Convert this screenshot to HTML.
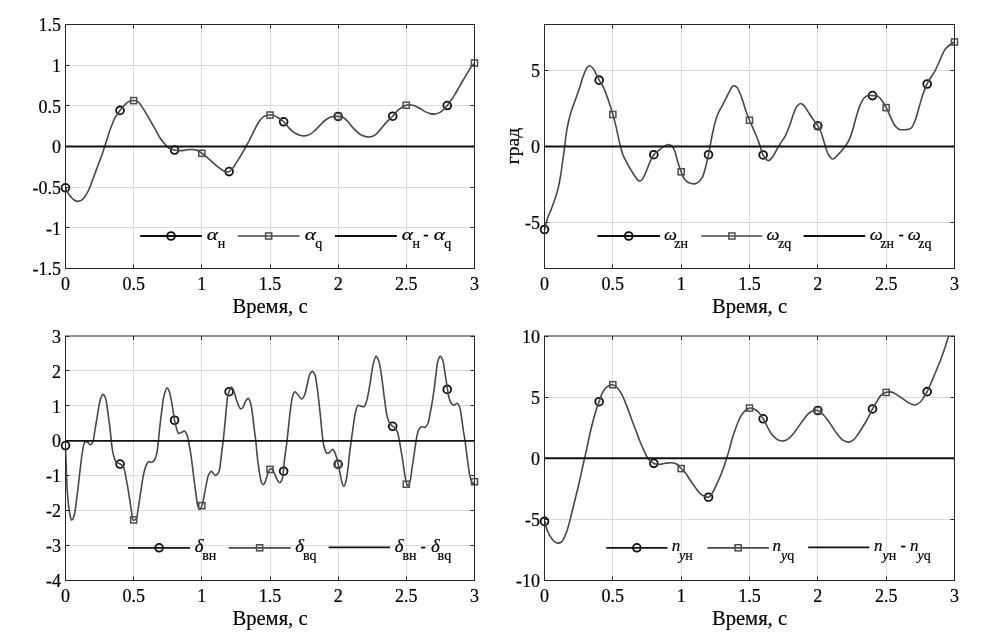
<!DOCTYPE html>
<html><head><meta charset="utf-8"><style>
html,body{margin:0;padding:0;background:#fff;}
body{width:1002px;height:637px;overflow:hidden;font-family:"Liberation Serif", serif;}
svg{display:block;will-change:transform;}
text{stroke:#000;stroke-width:0.2px;fill:#000;}
</style></head><body>
<svg width="1002" height="637" viewBox="0 0 1002 637" font-family='"Liberation Serif", serif' font-size="18" fill="#111">
<rect width="1002" height="637" fill="#fff"/>
<line x1="133.50" y1="24.50" x2="133.50" y2="268.50" stroke="#dcdcdc" stroke-width="1"/>
<line x1="201.50" y1="24.50" x2="201.50" y2="268.50" stroke="#dcdcdc" stroke-width="1"/>
<line x1="270.50" y1="24.50" x2="270.50" y2="268.50" stroke="#dcdcdc" stroke-width="1"/>
<line x1="338.50" y1="24.50" x2="338.50" y2="268.50" stroke="#dcdcdc" stroke-width="1"/>
<line x1="406.50" y1="24.50" x2="406.50" y2="268.50" stroke="#dcdcdc" stroke-width="1"/>
<line x1="65.50" y1="227.50" x2="474.50" y2="227.50" stroke="#dcdcdc" stroke-width="1"/>
<line x1="65.50" y1="187.50" x2="474.50" y2="187.50" stroke="#dcdcdc" stroke-width="1"/>
<line x1="65.50" y1="146.50" x2="474.50" y2="146.50" stroke="#dcdcdc" stroke-width="1"/>
<line x1="65.50" y1="105.50" x2="474.50" y2="105.50" stroke="#dcdcdc" stroke-width="1"/>
<line x1="65.50" y1="65.50" x2="474.50" y2="65.50" stroke="#dcdcdc" stroke-width="1"/>
<line x1="65.50" y1="268.50" x2="65.50" y2="264.50" stroke="#262626" stroke-width="1"/>
<line x1="65.50" y1="24.50" x2="65.50" y2="28.50" stroke="#262626" stroke-width="1"/>
<line x1="133.50" y1="268.50" x2="133.50" y2="264.50" stroke="#262626" stroke-width="1"/>
<line x1="133.50" y1="24.50" x2="133.50" y2="28.50" stroke="#262626" stroke-width="1"/>
<line x1="201.50" y1="268.50" x2="201.50" y2="264.50" stroke="#262626" stroke-width="1"/>
<line x1="201.50" y1="24.50" x2="201.50" y2="28.50" stroke="#262626" stroke-width="1"/>
<line x1="270.50" y1="268.50" x2="270.50" y2="264.50" stroke="#262626" stroke-width="1"/>
<line x1="270.50" y1="24.50" x2="270.50" y2="28.50" stroke="#262626" stroke-width="1"/>
<line x1="338.50" y1="268.50" x2="338.50" y2="264.50" stroke="#262626" stroke-width="1"/>
<line x1="338.50" y1="24.50" x2="338.50" y2="28.50" stroke="#262626" stroke-width="1"/>
<line x1="406.50" y1="268.50" x2="406.50" y2="264.50" stroke="#262626" stroke-width="1"/>
<line x1="406.50" y1="24.50" x2="406.50" y2="28.50" stroke="#262626" stroke-width="1"/>
<line x1="474.50" y1="268.50" x2="474.50" y2="264.50" stroke="#262626" stroke-width="1"/>
<line x1="474.50" y1="24.50" x2="474.50" y2="28.50" stroke="#262626" stroke-width="1"/>
<line x1="65.50" y1="268.50" x2="69.50" y2="268.50" stroke="#262626" stroke-width="1"/>
<line x1="474.50" y1="268.50" x2="470.50" y2="268.50" stroke="#262626" stroke-width="1"/>
<line x1="65.50" y1="227.50" x2="69.50" y2="227.50" stroke="#262626" stroke-width="1"/>
<line x1="474.50" y1="227.50" x2="470.50" y2="227.50" stroke="#262626" stroke-width="1"/>
<line x1="65.50" y1="187.50" x2="69.50" y2="187.50" stroke="#262626" stroke-width="1"/>
<line x1="474.50" y1="187.50" x2="470.50" y2="187.50" stroke="#262626" stroke-width="1"/>
<line x1="65.50" y1="146.50" x2="69.50" y2="146.50" stroke="#262626" stroke-width="1"/>
<line x1="474.50" y1="146.50" x2="470.50" y2="146.50" stroke="#262626" stroke-width="1"/>
<line x1="65.50" y1="105.50" x2="69.50" y2="105.50" stroke="#262626" stroke-width="1"/>
<line x1="474.50" y1="105.50" x2="470.50" y2="105.50" stroke="#262626" stroke-width="1"/>
<line x1="65.50" y1="65.50" x2="69.50" y2="65.50" stroke="#262626" stroke-width="1"/>
<line x1="474.50" y1="65.50" x2="470.50" y2="65.50" stroke="#262626" stroke-width="1"/>
<line x1="65.50" y1="24.50" x2="69.50" y2="24.50" stroke="#262626" stroke-width="1"/>
<line x1="474.50" y1="24.50" x2="470.50" y2="24.50" stroke="#262626" stroke-width="1"/>
<clipPath id="c1"><rect x="65.50" y="24.50" width="409.00" height="244.00"/></clipPath>
<circle cx="65.50" cy="187.80" r="3.9" fill="none" stroke="#111" stroke-width="1.8"/>
<circle cx="120.03" cy="110.40" r="3.9" fill="none" stroke="#111" stroke-width="1.8"/>
<circle cx="174.57" cy="150.05" r="3.9" fill="none" stroke="#111" stroke-width="1.8"/>
<circle cx="229.10" cy="171.61" r="3.9" fill="none" stroke="#111" stroke-width="1.8"/>
<circle cx="283.63" cy="121.77" r="3.9" fill="none" stroke="#111" stroke-width="1.8"/>
<circle cx="338.17" cy="116.44" r="3.9" fill="none" stroke="#111" stroke-width="1.8"/>
<circle cx="392.70" cy="116.20" r="3.9" fill="none" stroke="#111" stroke-width="1.8"/>
<circle cx="447.23" cy="105.57" r="3.9" fill="none" stroke="#111" stroke-width="1.8"/>
<path clip-path="url(#c1)" d="M65.50,187.80 C66.37,189.57 67.10,191.50 68.10,193.10 C69.02,194.58 70.13,195.91 71.20,197.10 C72.17,198.18 73.03,199.29 74.20,200.00 C75.39,200.73 76.94,201.44 78.30,201.40 C79.68,201.36 81.15,200.68 82.40,199.70 C83.96,198.48 85.30,196.06 86.50,194.10 C87.69,192.16 88.64,190.21 89.60,188.00 C90.69,185.50 91.58,182.53 92.60,179.80 C93.62,177.06 94.68,174.33 95.70,171.60 C96.71,168.89 97.69,166.21 98.70,163.50 C99.72,160.77 100.85,158.00 101.80,155.30 C102.71,152.70 103.44,150.23 104.30,147.60 C105.20,144.84 106.23,141.85 107.10,139.10 C107.92,136.53 108.54,134.09 109.40,131.60 C110.27,129.06 111.32,126.44 112.30,124.00 C113.22,121.71 113.93,119.53 115.10,117.40 C116.33,115.16 118.01,112.96 119.60,110.90 C121.15,108.90 122.91,106.79 124.50,105.20 C125.80,103.90 126.86,102.68 128.30,101.90 C129.75,101.11 131.59,100.57 133.20,100.50 C134.72,100.44 136.38,100.60 137.70,101.40 C139.21,102.31 140.28,104.42 141.50,106.10 C142.79,107.88 143.98,109.81 145.20,111.80 C146.49,113.90 147.73,116.20 149.00,118.40 C150.27,120.60 151.53,122.80 152.80,125.00 C154.07,127.20 155.35,129.40 156.60,131.60 C157.85,133.80 158.99,136.22 160.30,138.20 C161.47,139.97 162.75,141.52 164.00,143.00 C165.15,144.37 166.32,145.79 167.50,146.80 C168.49,147.64 169.41,148.27 170.50,148.80 C171.63,149.35 172.81,149.68 174.20,150.00 C175.90,150.39 178.05,150.80 180.00,150.80 C181.98,150.80 184.01,150.22 186.00,150.00 C187.97,149.79 190.02,149.45 191.90,149.50 C193.64,149.55 195.33,149.63 196.90,150.20 C198.51,150.78 199.92,152.00 201.40,153.00 C202.92,154.03 204.32,155.03 205.90,156.30 C207.79,157.82 209.90,159.83 211.90,161.60 C213.90,163.37 215.84,165.32 217.90,166.90 C219.85,168.40 221.91,170.10 223.90,170.90 C225.57,171.57 227.42,172.24 228.90,171.80 C230.44,171.34 231.66,169.50 232.90,168.00 C234.32,166.28 235.42,164.07 236.80,161.90 C238.37,159.44 240.26,156.59 241.80,154.00 C243.25,151.57 244.47,149.21 245.80,146.80 C247.14,144.38 248.48,142.05 249.80,139.50 C251.22,136.77 252.60,133.68 254.00,130.90 C255.33,128.25 256.56,125.46 258.00,123.20 C259.25,121.23 260.59,119.28 262.00,118.00 C263.12,116.98 264.25,116.30 265.50,115.80 C266.75,115.30 268.13,115.07 269.50,115.00 C270.93,114.92 272.51,114.99 273.90,115.40 C275.31,115.82 276.49,116.63 277.90,117.50 C279.62,118.57 281.74,119.97 283.40,121.50 C285.07,123.04 286.33,125.01 287.90,126.70 C289.49,128.41 291.05,130.33 292.90,131.70 C294.72,133.05 296.89,134.20 298.90,134.90 C300.72,135.53 302.58,135.98 304.40,135.90 C306.24,135.82 308.19,135.27 309.90,134.40 C311.71,133.48 313.27,131.86 314.90,130.40 C316.61,128.87 318.24,127.06 319.90,125.40 C321.54,123.76 322.98,121.90 324.80,120.50 C326.62,119.10 328.63,117.69 330.80,117.00 C333.02,116.30 335.73,116.20 338.00,116.40 C340.11,116.59 342.21,116.97 344.00,118.00 C345.91,119.10 347.37,121.23 349.00,123.00 C350.71,124.85 352.19,127.05 354.00,128.90 C355.85,130.78 357.89,132.89 360.00,134.20 C361.88,135.37 363.98,136.18 365.90,136.60 C367.60,136.97 369.27,137.14 370.90,136.80 C372.61,136.45 374.34,135.56 375.90,134.40 C377.71,133.05 379.25,130.79 380.90,128.90 C382.59,126.96 384.04,124.92 385.90,122.90 C387.99,120.63 390.69,118.30 392.90,116.00 C395.01,113.80 396.60,111.23 398.90,109.40 C401.20,107.56 404.18,105.62 406.70,105.00 C408.78,104.49 410.82,104.75 412.80,105.20 C414.85,105.66 416.81,106.77 418.80,107.80 C420.91,108.89 423.07,110.60 425.10,111.60 C426.85,112.46 428.47,113.20 430.20,113.60 C431.87,113.98 433.63,114.23 435.30,114.00 C437.03,113.76 438.91,112.96 440.40,112.10 C441.78,111.30 442.86,110.19 444.00,109.10 C445.16,107.99 446.24,106.81 447.30,105.50 C448.44,104.09 449.45,102.55 450.60,100.90 C451.91,99.02 453.37,96.93 454.70,94.80 C456.11,92.55 457.44,90.08 458.80,87.70 C460.17,85.31 461.53,82.84 462.90,80.50 C464.23,78.24 465.56,76.11 466.90,73.90 C468.26,71.67 469.55,69.11 471.00,67.20 C472.24,65.57 473.60,64.40 474.90,63.00" fill="none" stroke="#474747" stroke-width="1.6" stroke-linejoin="round"/>
<rect x="130.62" y="97.54" width="6.1" height="6.1" fill="none" stroke="#4d4d4d" stroke-width="1.5"/>
<rect x="198.78" y="150.27" width="6.1" height="6.1" fill="none" stroke="#4d4d4d" stroke-width="1.5"/>
<rect x="266.95" y="112.00" width="6.1" height="6.1" fill="none" stroke="#4d4d4d" stroke-width="1.5"/>
<rect x="335.12" y="113.39" width="6.1" height="6.1" fill="none" stroke="#4d4d4d" stroke-width="1.5"/>
<rect x="403.28" y="102.16" width="6.1" height="6.1" fill="none" stroke="#4d4d4d" stroke-width="1.5"/>
<rect x="471.45" y="59.95" width="6.1" height="6.1" fill="none" stroke="#4d4d4d" stroke-width="1.5"/>
<line x1="65.50" y1="146.50" x2="474.50" y2="146.50" stroke="#111" stroke-width="1.8"/>
<rect x="65.50" y="24.50" width="409.00" height="244.00" fill="none" stroke="#262626" stroke-width="1"/>
<text x="65.50" y="290.10" text-anchor="middle">0</text>
<text x="133.67" y="290.10" text-anchor="middle">0.5</text>
<text x="201.83" y="290.10" text-anchor="middle">1</text>
<text x="270.00" y="290.10" text-anchor="middle">1.5</text>
<text x="338.17" y="290.10" text-anchor="middle">2</text>
<text x="406.33" y="290.10" text-anchor="middle">2.5</text>
<text x="474.50" y="290.10" text-anchor="middle">3</text>
<text x="61.00" y="275.20" text-anchor="end">-1.5</text>
<text x="61.00" y="234.53" text-anchor="end">-1</text>
<text x="61.00" y="193.87" text-anchor="end">-0.5</text>
<text x="61.00" y="153.20" text-anchor="end">0</text>
<text x="61.00" y="112.53" text-anchor="end">0.5</text>
<text x="61.00" y="71.87" text-anchor="end">1</text>
<text x="61.00" y="31.20" text-anchor="end">1.5</text>
<text x="270.00" y="312.70" text-anchor="middle" font-size="20.6">Время, с</text>
<line x1="140.20" y1="236.00" x2="201.90" y2="236.00" stroke="#111" stroke-width="1.8"/>
<circle cx="171.05" cy="236.00" r="3.9" fill="none" stroke="#111" stroke-width="1.8"/>
<line x1="237.80" y1="236.00" x2="299.50" y2="236.00" stroke="#474747" stroke-width="1.7"/>
<rect x="265.60" y="232.95" width="6.1" height="6.1" fill="none" stroke="#4d4d4d" stroke-width="1.5"/>
<line x1="334.90" y1="236.00" x2="396.80" y2="236.00" stroke="#111" stroke-width="1.8"/>
<text transform="translate(206.85,239.60) scale(1.250,1)" font-size="17" font-style="italic">α</text>
<text x="217.80" y="247.50" font-size="14">н</text>
<text transform="translate(304.75,239.60) scale(1.250,1)" font-size="17" font-style="italic">α</text>
<text x="315.20" y="247.50" font-size="14">q</text>
<text transform="translate(401.85,239.60) scale(1.250,1)" font-size="17" font-style="italic">α</text>
<text x="412.60" y="247.50" font-size="14">н</text>
<text x="423.30" y="239.60" font-size="16">-</text>
<text transform="translate(433.85,239.60) scale(1.250,1)" font-size="17" font-style="italic">α</text>
<text x="444.30" y="247.50" font-size="14">q</text>
<line x1="612.50" y1="24.50" x2="612.50" y2="268.50" stroke="#dcdcdc" stroke-width="1"/>
<line x1="681.50" y1="24.50" x2="681.50" y2="268.50" stroke="#dcdcdc" stroke-width="1"/>
<line x1="749.50" y1="24.50" x2="749.50" y2="268.50" stroke="#dcdcdc" stroke-width="1"/>
<line x1="817.50" y1="24.50" x2="817.50" y2="268.50" stroke="#dcdcdc" stroke-width="1"/>
<line x1="886.50" y1="24.50" x2="886.50" y2="268.50" stroke="#dcdcdc" stroke-width="1"/>
<line x1="544.50" y1="222.50" x2="954.50" y2="222.50" stroke="#dcdcdc" stroke-width="1"/>
<line x1="544.50" y1="146.50" x2="954.50" y2="146.50" stroke="#dcdcdc" stroke-width="1"/>
<line x1="544.50" y1="70.50" x2="954.50" y2="70.50" stroke="#dcdcdc" stroke-width="1"/>
<line x1="544.50" y1="268.50" x2="544.50" y2="264.50" stroke="#262626" stroke-width="1"/>
<line x1="544.50" y1="24.50" x2="544.50" y2="28.50" stroke="#262626" stroke-width="1"/>
<line x1="612.50" y1="268.50" x2="612.50" y2="264.50" stroke="#262626" stroke-width="1"/>
<line x1="612.50" y1="24.50" x2="612.50" y2="28.50" stroke="#262626" stroke-width="1"/>
<line x1="681.50" y1="268.50" x2="681.50" y2="264.50" stroke="#262626" stroke-width="1"/>
<line x1="681.50" y1="24.50" x2="681.50" y2="28.50" stroke="#262626" stroke-width="1"/>
<line x1="749.50" y1="268.50" x2="749.50" y2="264.50" stroke="#262626" stroke-width="1"/>
<line x1="749.50" y1="24.50" x2="749.50" y2="28.50" stroke="#262626" stroke-width="1"/>
<line x1="817.50" y1="268.50" x2="817.50" y2="264.50" stroke="#262626" stroke-width="1"/>
<line x1="817.50" y1="24.50" x2="817.50" y2="28.50" stroke="#262626" stroke-width="1"/>
<line x1="886.50" y1="268.50" x2="886.50" y2="264.50" stroke="#262626" stroke-width="1"/>
<line x1="886.50" y1="24.50" x2="886.50" y2="28.50" stroke="#262626" stroke-width="1"/>
<line x1="954.50" y1="268.50" x2="954.50" y2="264.50" stroke="#262626" stroke-width="1"/>
<line x1="954.50" y1="24.50" x2="954.50" y2="28.50" stroke="#262626" stroke-width="1"/>
<line x1="544.50" y1="222.50" x2="548.50" y2="222.50" stroke="#262626" stroke-width="1"/>
<line x1="954.50" y1="222.50" x2="950.50" y2="222.50" stroke="#262626" stroke-width="1"/>
<line x1="544.50" y1="146.50" x2="548.50" y2="146.50" stroke="#262626" stroke-width="1"/>
<line x1="954.50" y1="146.50" x2="950.50" y2="146.50" stroke="#262626" stroke-width="1"/>
<line x1="544.50" y1="70.50" x2="548.50" y2="70.50" stroke="#262626" stroke-width="1"/>
<line x1="954.50" y1="70.50" x2="950.50" y2="70.50" stroke="#262626" stroke-width="1"/>
<clipPath id="c2"><rect x="544.50" y="24.50" width="410.00" height="244.00"/></clipPath>
<circle cx="544.50" cy="229.50" r="3.9" fill="none" stroke="#111" stroke-width="1.8"/>
<circle cx="599.17" cy="80.13" r="3.9" fill="none" stroke="#111" stroke-width="1.8"/>
<circle cx="653.83" cy="154.72" r="3.9" fill="none" stroke="#111" stroke-width="1.8"/>
<circle cx="708.50" cy="154.70" r="3.9" fill="none" stroke="#111" stroke-width="1.8"/>
<circle cx="763.17" cy="154.98" r="3.9" fill="none" stroke="#111" stroke-width="1.8"/>
<circle cx="817.83" cy="125.81" r="3.9" fill="none" stroke="#111" stroke-width="1.8"/>
<circle cx="872.50" cy="95.61" r="3.9" fill="none" stroke="#111" stroke-width="1.8"/>
<circle cx="927.17" cy="83.99" r="3.9" fill="none" stroke="#111" stroke-width="1.8"/>
<path clip-path="url(#c2)" d="M544.60,229.50 C545.53,225.83 546.24,221.98 547.40,218.50 C548.50,215.20 550.03,212.37 551.30,209.10 C552.66,205.59 554.11,201.79 555.30,198.10 C556.47,194.45 557.50,190.91 558.40,187.10 C559.35,183.06 560.14,178.57 560.80,174.50 C561.42,170.72 561.78,167.16 562.30,163.50 C562.82,159.86 563.47,155.74 563.90,152.60 C564.23,150.22 564.39,148.80 564.70,146.30 C565.16,142.61 565.70,136.99 566.40,132.60 C567.05,128.48 567.80,124.53 568.70,120.70 C569.55,117.07 570.49,113.67 571.60,110.20 C572.72,106.70 574.15,103.28 575.40,99.80 C576.65,96.31 577.90,92.92 579.10,89.30 C580.37,85.47 581.46,81.06 582.80,77.40 C583.98,74.16 585.28,70.45 586.60,68.40 C587.41,67.14 588.14,65.84 589.10,65.70 C590.10,65.55 591.46,66.64 592.50,67.70 C593.95,69.17 595.13,72.21 596.30,74.40 C597.39,76.44 598.16,78.32 599.30,80.40 C600.59,82.76 602.34,84.97 603.70,87.80 C605.36,91.26 606.72,95.50 608.20,99.80 C609.89,104.71 611.86,111.08 613.20,115.70 C614.22,119.23 614.96,122.01 615.70,125.10 C616.42,128.07 616.90,130.72 617.60,133.90 C618.43,137.66 619.42,142.47 620.40,146.20 C621.23,149.37 621.94,152.21 623.00,154.90 C623.97,157.38 625.17,159.45 626.40,161.80 C627.72,164.31 629.24,167.01 630.70,169.50 C632.11,171.90 633.70,174.63 635.00,176.50 C635.93,177.84 636.75,179.02 637.60,179.80 C638.21,180.36 638.78,180.92 639.40,181.00 C639.98,181.08 640.66,180.76 641.20,180.40 C641.81,180.00 642.23,179.46 642.80,178.60 C643.84,177.03 645.19,173.86 646.30,171.30 C647.50,168.55 648.41,165.42 649.70,162.60 C650.98,159.79 652.27,156.55 654.00,154.40 C655.46,152.59 657.32,151.55 659.00,150.20 C660.65,148.88 662.33,147.38 664.00,146.40 C665.46,145.55 667.00,144.46 668.40,144.50 C669.72,144.54 671.15,145.39 672.20,146.40 C673.43,147.58 674.19,149.48 675.00,151.50 C676.05,154.13 676.52,157.74 677.50,161.00 C678.56,164.53 679.86,168.60 681.20,171.90 C682.36,174.75 683.22,177.75 684.90,179.70 C686.36,181.39 688.33,182.70 690.30,183.30 C692.24,183.89 694.72,184.08 696.60,183.30 C698.67,182.44 700.57,180.22 702.00,177.90 C703.75,175.07 704.54,170.85 705.60,167.10 C706.72,163.13 707.72,158.40 708.50,154.70 C709.12,151.72 709.47,149.45 710.00,146.60 C710.59,143.42 711.24,139.75 711.90,136.50 C712.51,133.46 713.14,130.51 713.80,127.70 C714.41,125.09 714.95,122.63 715.70,120.20 C716.43,117.83 717.24,115.52 718.20,113.30 C719.14,111.12 720.28,109.14 721.40,107.00 C722.58,104.75 723.87,102.46 725.10,100.10 C726.37,97.66 727.68,94.92 728.90,92.60 C729.97,90.56 730.88,88.03 732.00,86.90 C732.70,86.20 733.42,85.68 734.20,85.70 C735.11,85.73 736.23,86.55 737.10,87.50 C738.34,88.87 739.23,91.49 740.20,93.80 C741.32,96.46 742.39,99.84 743.30,102.60 C744.10,105.03 744.53,106.95 745.40,109.50 C746.52,112.76 748.16,116.97 749.60,120.50 C750.96,123.83 752.46,126.99 753.80,130.10 C755.06,133.02 756.31,135.82 757.40,138.60 C758.43,141.22 759.29,143.66 760.20,146.30 C761.15,149.06 761.55,152.37 763.00,154.80 C764.37,157.10 766.73,160.58 768.50,160.60 C770.12,160.62 771.75,157.80 773.20,155.90 C774.94,153.62 776.41,150.11 777.90,147.60 C779.16,145.48 780.26,143.79 781.50,141.80 C782.82,139.69 784.33,137.76 785.60,135.30 C787.10,132.38 788.44,128.70 789.70,125.30 C790.98,121.84 791.94,117.98 793.20,114.70 C794.33,111.76 795.35,108.45 796.80,106.50 C797.84,105.10 799.08,103.64 800.30,103.50 C801.42,103.37 802.67,104.29 803.80,105.30 C805.46,106.78 806.93,110.04 808.50,112.40 C810.06,114.74 811.61,117.12 813.20,119.40 C814.75,121.62 816.53,123.58 817.90,125.90 C819.30,128.27 820.41,130.64 821.50,133.50 C822.82,136.96 823.77,141.61 825.00,145.30 C826.11,148.63 826.95,152.29 828.50,154.70 C829.70,156.57 831.24,158.94 832.80,159.00 C834.54,159.07 836.67,155.91 838.50,154.10 C840.45,152.17 842.41,149.88 844.10,147.70 C845.70,145.64 847.11,143.90 848.40,141.40 C850.02,138.26 851.34,134.01 852.60,130.10 C853.92,126.02 854.88,121.50 856.10,117.40 C857.25,113.51 858.27,109.46 859.70,106.10 C860.93,103.20 862.24,100.12 863.90,98.30 C865.15,96.92 866.62,95.93 868.10,95.50 C869.47,95.10 870.88,95.47 872.40,95.60 C874.15,95.74 876.38,95.55 878.00,96.40 C879.72,97.31 880.96,99.29 882.30,101.10 C883.82,103.16 885.16,105.64 886.50,108.20 C887.98,111.03 889.26,114.42 890.70,117.40 C892.09,120.28 893.34,123.70 895.00,125.80 C896.27,127.41 897.57,128.75 899.20,129.40 C900.86,130.06 903.02,129.82 904.90,129.70 C906.78,129.58 908.95,129.77 910.50,128.70 C912.36,127.41 913.44,124.46 914.70,121.60 C916.38,117.78 917.58,112.20 919.00,107.50 C920.42,102.80 921.66,97.68 923.20,93.40 C924.53,89.69 925.98,86.20 927.50,83.20 C928.77,80.68 930.18,78.69 931.50,76.50 C932.78,74.39 934.02,72.72 935.30,70.30 C936.97,67.14 938.68,62.65 940.40,59.00 C942.04,55.52 943.45,51.44 945.40,48.90 C946.90,46.95 948.78,45.71 950.40,44.50 C951.76,43.48 953.07,42.83 954.40,42.00" fill="none" stroke="#474747" stroke-width="1.6" stroke-linejoin="round"/>
<rect x="609.78" y="111.48" width="6.1" height="6.1" fill="none" stroke="#4d4d4d" stroke-width="1.5"/>
<rect x="678.12" y="168.75" width="6.1" height="6.1" fill="none" stroke="#4d4d4d" stroke-width="1.5"/>
<rect x="746.45" y="117.19" width="6.1" height="6.1" fill="none" stroke="#4d4d4d" stroke-width="1.5"/>
<rect x="814.78" y="122.76" width="6.1" height="6.1" fill="none" stroke="#4d4d4d" stroke-width="1.5"/>
<rect x="883.12" y="104.59" width="6.1" height="6.1" fill="none" stroke="#4d4d4d" stroke-width="1.5"/>
<rect x="951.45" y="38.95" width="6.1" height="6.1" fill="none" stroke="#4d4d4d" stroke-width="1.5"/>
<line x1="544.50" y1="146.50" x2="954.50" y2="146.50" stroke="#111" stroke-width="1.8"/>
<rect x="544.50" y="24.50" width="410.00" height="244.00" fill="none" stroke="#262626" stroke-width="1"/>
<text x="544.50" y="290.10" text-anchor="middle">0</text>
<text x="612.83" y="290.10" text-anchor="middle">0.5</text>
<text x="681.17" y="290.10" text-anchor="middle">1</text>
<text x="749.50" y="290.10" text-anchor="middle">1.5</text>
<text x="817.83" y="290.10" text-anchor="middle">2</text>
<text x="886.17" y="290.10" text-anchor="middle">2.5</text>
<text x="954.50" y="290.10" text-anchor="middle">3</text>
<text x="540.00" y="229.45" text-anchor="end">-5</text>
<text x="540.00" y="153.20" text-anchor="end">0</text>
<text x="540.00" y="76.95" text-anchor="end">5</text>
<text x="749.50" y="312.70" text-anchor="middle" font-size="20.6">Время, с</text>
<text x="0" y="0" text-anchor="middle" font-size="19.6" transform="translate(518.50,146.00) rotate(-90)">град</text>
<line x1="597.50" y1="236.00" x2="660.00" y2="236.00" stroke="#111" stroke-width="1.8"/>
<circle cx="628.75" cy="236.00" r="3.9" fill="none" stroke="#111" stroke-width="1.8"/>
<line x1="701.40" y1="236.00" x2="762.40" y2="236.00" stroke="#474747" stroke-width="1.7"/>
<rect x="728.85" y="232.95" width="6.1" height="6.1" fill="none" stroke="#4d4d4d" stroke-width="1.5"/>
<line x1="803.60" y1="236.00" x2="865.20" y2="236.00" stroke="#111" stroke-width="1.8"/>
<text transform="translate(664.02,239.60) scale(1.080,1)" font-size="17" font-style="italic">ω</text>
<text x="674.30" y="247.60" font-size="14">zн</text>
<text transform="translate(766.52,239.60) scale(1.080,1)" font-size="17" font-style="italic">ω</text>
<text x="778.00" y="247.60" font-size="14">zq</text>
<text transform="translate(869.82,239.60) scale(1.080,1)" font-size="17" font-style="italic">ω</text>
<text x="880.30" y="247.60" font-size="14">zн</text>
<text x="898.40" y="239.60" font-size="16">-</text>
<text transform="translate(907.72,239.60) scale(1.080,1)" font-size="17" font-style="italic">ω</text>
<text x="918.30" y="247.60" font-size="14">zq</text>
<line x1="133.50" y1="336.00" x2="133.50" y2="580.50" stroke="#dcdcdc" stroke-width="1"/>
<line x1="201.50" y1="336.00" x2="201.50" y2="580.50" stroke="#dcdcdc" stroke-width="1"/>
<line x1="270.50" y1="336.00" x2="270.50" y2="580.50" stroke="#dcdcdc" stroke-width="1"/>
<line x1="338.50" y1="336.00" x2="338.50" y2="580.50" stroke="#dcdcdc" stroke-width="1"/>
<line x1="406.50" y1="336.00" x2="406.50" y2="580.50" stroke="#dcdcdc" stroke-width="1"/>
<line x1="65.50" y1="545.50" x2="474.50" y2="545.50" stroke="#dcdcdc" stroke-width="1"/>
<line x1="65.50" y1="510.50" x2="474.50" y2="510.50" stroke="#dcdcdc" stroke-width="1"/>
<line x1="65.50" y1="475.50" x2="474.50" y2="475.50" stroke="#dcdcdc" stroke-width="1"/>
<line x1="65.50" y1="440.50" x2="474.50" y2="440.50" stroke="#dcdcdc" stroke-width="1"/>
<line x1="65.50" y1="405.50" x2="474.50" y2="405.50" stroke="#dcdcdc" stroke-width="1"/>
<line x1="65.50" y1="370.50" x2="474.50" y2="370.50" stroke="#dcdcdc" stroke-width="1"/>
<line x1="65.50" y1="580.50" x2="65.50" y2="576.50" stroke="#262626" stroke-width="1"/>
<line x1="65.50" y1="336.00" x2="65.50" y2="340.00" stroke="#262626" stroke-width="1"/>
<line x1="133.50" y1="580.50" x2="133.50" y2="576.50" stroke="#262626" stroke-width="1"/>
<line x1="133.50" y1="336.00" x2="133.50" y2="340.00" stroke="#262626" stroke-width="1"/>
<line x1="201.50" y1="580.50" x2="201.50" y2="576.50" stroke="#262626" stroke-width="1"/>
<line x1="201.50" y1="336.00" x2="201.50" y2="340.00" stroke="#262626" stroke-width="1"/>
<line x1="270.50" y1="580.50" x2="270.50" y2="576.50" stroke="#262626" stroke-width="1"/>
<line x1="270.50" y1="336.00" x2="270.50" y2="340.00" stroke="#262626" stroke-width="1"/>
<line x1="338.50" y1="580.50" x2="338.50" y2="576.50" stroke="#262626" stroke-width="1"/>
<line x1="338.50" y1="336.00" x2="338.50" y2="340.00" stroke="#262626" stroke-width="1"/>
<line x1="406.50" y1="580.50" x2="406.50" y2="576.50" stroke="#262626" stroke-width="1"/>
<line x1="406.50" y1="336.00" x2="406.50" y2="340.00" stroke="#262626" stroke-width="1"/>
<line x1="474.50" y1="580.50" x2="474.50" y2="576.50" stroke="#262626" stroke-width="1"/>
<line x1="474.50" y1="336.00" x2="474.50" y2="340.00" stroke="#262626" stroke-width="1"/>
<line x1="65.50" y1="580.50" x2="69.50" y2="580.50" stroke="#262626" stroke-width="1"/>
<line x1="474.50" y1="580.50" x2="470.50" y2="580.50" stroke="#262626" stroke-width="1"/>
<line x1="65.50" y1="545.50" x2="69.50" y2="545.50" stroke="#262626" stroke-width="1"/>
<line x1="474.50" y1="545.50" x2="470.50" y2="545.50" stroke="#262626" stroke-width="1"/>
<line x1="65.50" y1="510.50" x2="69.50" y2="510.50" stroke="#262626" stroke-width="1"/>
<line x1="474.50" y1="510.50" x2="470.50" y2="510.50" stroke="#262626" stroke-width="1"/>
<line x1="65.50" y1="475.50" x2="69.50" y2="475.50" stroke="#262626" stroke-width="1"/>
<line x1="474.50" y1="475.50" x2="470.50" y2="475.50" stroke="#262626" stroke-width="1"/>
<line x1="65.50" y1="440.50" x2="69.50" y2="440.50" stroke="#262626" stroke-width="1"/>
<line x1="474.50" y1="440.50" x2="470.50" y2="440.50" stroke="#262626" stroke-width="1"/>
<line x1="65.50" y1="405.50" x2="69.50" y2="405.50" stroke="#262626" stroke-width="1"/>
<line x1="474.50" y1="405.50" x2="470.50" y2="405.50" stroke="#262626" stroke-width="1"/>
<line x1="65.50" y1="370.50" x2="69.50" y2="370.50" stroke="#262626" stroke-width="1"/>
<line x1="474.50" y1="370.50" x2="470.50" y2="370.50" stroke="#262626" stroke-width="1"/>
<line x1="65.50" y1="336.50" x2="69.50" y2="336.50" stroke="#262626" stroke-width="1"/>
<line x1="474.50" y1="336.50" x2="470.50" y2="336.50" stroke="#262626" stroke-width="1"/>
<clipPath id="c3"><rect x="65.50" y="336.00" width="409.00" height="244.50"/></clipPath>
<circle cx="65.50" cy="445.60" r="3.9" fill="none" stroke="#111" stroke-width="1.8"/>
<circle cx="120.03" cy="464.06" r="3.9" fill="none" stroke="#111" stroke-width="1.8"/>
<circle cx="174.57" cy="420.25" r="3.9" fill="none" stroke="#111" stroke-width="1.8"/>
<circle cx="229.10" cy="391.71" r="3.9" fill="none" stroke="#111" stroke-width="1.8"/>
<circle cx="283.63" cy="471.20" r="3.9" fill="none" stroke="#111" stroke-width="1.8"/>
<circle cx="338.17" cy="464.30" r="3.9" fill="none" stroke="#111" stroke-width="1.8"/>
<circle cx="392.70" cy="426.28" r="3.9" fill="none" stroke="#111" stroke-width="1.8"/>
<circle cx="447.23" cy="389.40" r="3.9" fill="none" stroke="#111" stroke-width="1.8"/>
<path clip-path="url(#c3)" d="M65.30,445.60 C65.53,450.40 65.78,454.81 66.00,460.00 C66.26,466.12 66.37,473.33 66.70,480.00 C67.03,486.69 67.38,493.93 68.00,500.10 C68.53,505.39 69.17,511.15 70.00,514.80 C70.51,517.04 70.99,520.02 71.70,520.10 C72.35,520.17 73.37,517.86 74.00,516.10 C75.02,513.24 75.37,508.39 76.00,504.10 C76.72,499.16 77.35,493.55 78.00,488.10 C78.68,482.42 79.32,476.38 80.00,470.70 C80.65,465.25 81.25,459.49 82.00,454.70 C82.61,450.77 83.14,446.18 84.00,444.00 C84.42,442.93 84.74,442.06 85.40,441.80 C86.07,441.54 87.20,442.06 88.00,442.50 C88.88,442.98 89.62,444.72 90.40,444.70 C91.18,444.68 92.08,443.58 92.70,442.40 C93.84,440.25 94.05,435.45 94.70,431.80 C95.39,427.90 96.03,423.72 96.70,419.70 C97.37,415.69 97.99,411.44 98.70,407.70 C99.33,404.39 99.78,400.80 100.70,398.40 C101.34,396.73 102.19,394.44 103.00,394.40 C103.76,394.36 104.75,396.17 105.40,397.70 C106.49,400.28 106.77,405.06 107.40,409.10 C108.11,413.66 108.78,418.73 109.40,423.70 C110.05,428.86 110.68,434.86 111.20,439.50 C111.61,443.15 111.78,446.20 112.30,449.30 C112.77,452.14 113.36,455.11 114.10,457.40 C114.68,459.18 115.08,460.92 116.10,462.00 C117.02,462.97 118.53,463.06 119.70,463.80 C120.97,464.60 122.48,465.28 123.40,466.70 C124.62,468.58 124.77,471.83 125.40,474.70 C126.12,478.00 126.75,481.73 127.40,485.40 C128.09,489.28 128.75,493.29 129.40,497.40 C130.09,501.74 130.71,506.75 131.40,510.80 C131.98,514.19 131.92,519.44 133.20,520.10 C133.94,520.48 135.35,519.73 136.10,518.80 C137.41,517.18 137.48,512.81 138.10,509.40 C138.83,505.36 139.43,500.54 140.10,496.10 C140.77,491.64 141.39,486.91 142.10,482.70 C142.73,478.93 143.24,475.28 144.10,472.00 C144.85,469.11 145.78,465.83 146.80,464.00 C147.42,462.89 147.94,461.91 148.80,461.60 C149.69,461.28 151.12,462.50 152.10,462.20 C153.14,461.87 154.07,460.69 154.80,459.50 C155.75,457.96 156.27,455.75 156.80,453.40 C157.49,450.36 157.73,446.71 158.20,442.70 C158.80,437.56 159.35,430.82 160.00,425.10 C160.62,419.64 161.30,414.19 162.00,409.10 C162.64,404.43 162.97,399.50 164.00,395.70 C164.81,392.73 166.05,388.09 167.10,388.00 C167.86,387.93 168.76,390.12 169.40,391.70 C170.34,394.04 170.80,397.89 171.40,401.00 C172.00,404.12 172.51,407.32 173.00,410.40 C173.47,413.35 173.77,416.34 174.30,419.10 C174.79,421.65 175.27,424.01 176.00,426.40 C176.73,428.81 177.46,432.96 178.70,433.50 C179.47,433.83 180.48,432.79 181.40,432.40 C182.38,431.99 183.52,430.84 184.40,431.10 C185.47,431.41 186.41,433.49 187.10,435.10 C187.96,437.10 188.16,439.71 188.70,442.40 C189.36,445.69 190.09,449.55 190.70,453.40 C191.37,457.62 191.93,462.26 192.50,466.70 C193.07,471.16 193.52,475.54 194.10,480.10 C194.71,484.86 195.40,490.07 196.10,494.70 C196.74,498.93 197.16,504.30 198.10,506.80 C198.57,508.05 199.11,509.41 199.70,509.40 C200.47,509.39 201.61,506.64 202.30,504.80 C203.20,502.41 203.50,499.15 204.10,496.10 C204.77,492.72 205.34,488.96 206.10,485.40 C206.87,481.82 207.48,477.16 208.70,474.70 C209.46,473.17 210.38,471.45 211.40,471.40 C212.57,471.34 214.12,475.40 215.40,475.40 C216.58,475.40 217.94,473.67 218.80,472.00 C220.16,469.35 220.24,463.89 220.80,460.00 C221.33,456.34 221.68,452.66 222.10,449.30 C222.48,446.30 222.82,444.07 223.20,440.80 C223.71,436.37 224.28,430.47 224.80,425.10 C225.35,419.45 225.85,412.96 226.40,407.70 C226.86,403.33 227.15,398.67 227.80,395.70 C228.20,393.88 228.62,392.82 229.20,391.40 C229.81,389.92 230.61,387.02 231.40,387.00 C232.23,386.98 233.30,389.81 234.10,391.70 C235.17,394.22 235.69,398.08 236.80,401.00 C237.85,403.76 239.18,408.34 240.50,408.80 C241.21,409.04 242.04,408.39 242.70,407.70 C243.77,406.57 244.24,403.33 245.30,401.70 C246.17,400.35 247.44,398.26 248.30,398.40 C249.28,398.55 250.04,401.52 250.70,403.70 C251.66,406.85 252.11,411.49 252.70,415.70 C253.36,420.34 253.84,425.93 254.40,430.40 C254.87,434.17 255.41,437.37 255.80,440.80 C256.18,444.14 256.36,447.24 256.70,450.70 C257.08,454.51 257.48,458.71 258.00,462.70 C258.52,466.71 259.13,471.11 259.80,474.70 C260.35,477.65 260.72,480.99 261.60,482.70 C262.11,483.68 262.82,484.75 263.40,484.70 C264.09,484.63 264.81,482.74 265.40,481.40 C266.20,479.60 266.65,476.77 267.40,474.70 C268.07,472.84 268.58,470.34 269.60,469.50 C270.27,468.95 271.30,468.68 272.00,469.00 C273.00,469.46 273.59,471.76 274.40,473.40 C275.38,475.38 276.31,478.45 277.40,480.10 C278.16,481.25 279.04,482.75 279.80,482.70 C280.61,482.64 281.52,480.82 282.10,479.40 C282.92,477.38 283.04,474.22 283.40,471.40 C283.80,468.26 283.93,464.79 284.30,461.40 C284.69,457.89 285.24,454.20 285.70,450.70 C286.14,447.34 286.56,444.48 287.00,440.80 C287.55,436.17 288.10,430.47 288.70,425.10 C289.33,419.45 289.96,412.95 290.70,407.70 C291.32,403.32 291.68,398.56 292.70,395.70 C293.33,393.94 294.09,391.81 295.00,391.70 C295.90,391.60 297.02,393.84 298.10,395.00 C299.28,396.27 300.69,399.09 301.80,399.00 C302.92,398.91 303.96,396.34 304.80,394.40 C305.99,391.65 306.50,387.20 307.40,383.70 C308.27,380.30 308.90,375.77 310.10,373.70 C310.77,372.54 311.64,371.36 312.40,371.40 C313.21,371.44 314.15,372.91 314.80,374.30 C315.90,376.66 316.19,381.07 316.80,385.00 C317.55,389.79 318.16,395.46 318.80,401.00 C319.49,406.99 320.17,413.58 320.80,419.70 C321.40,425.60 321.85,432.17 322.50,437.10 C322.99,440.78 323.28,443.85 324.10,446.70 C324.79,449.12 325.57,452.59 326.80,453.20 C327.57,453.58 328.62,453.00 329.50,452.50 C330.64,451.85 331.84,449.06 332.80,449.20 C333.86,449.36 334.70,452.17 335.50,454.20 C336.62,457.02 337.52,461.47 338.30,464.80 C338.99,467.73 339.40,470.26 340.00,473.10 C340.63,476.11 341.15,479.99 342.00,482.40 C342.58,484.06 343.37,486.43 344.00,486.40 C344.71,486.36 345.43,483.31 346.00,481.10 C346.89,477.69 347.39,472.37 348.00,467.70 C348.67,462.61 349.19,456.65 349.80,451.70 C350.33,447.41 350.83,443.90 351.40,439.70 C352.03,435.05 352.70,429.67 353.40,425.00 C354.04,420.74 354.50,416.33 355.40,412.80 C356.12,409.99 356.73,406.08 358.00,405.40 C358.76,405.00 359.75,405.89 360.70,406.10 C361.74,406.33 363.09,407.18 364.00,406.70 C365.27,406.03 365.96,402.96 366.70,400.70 C367.59,397.98 368.07,394.71 368.70,391.40 C369.41,387.66 369.98,383.69 370.70,379.40 C371.53,374.45 372.25,367.60 373.40,363.40 C374.18,360.54 375.11,356.49 376.10,356.40 C376.91,356.33 377.99,358.92 378.70,360.70 C379.67,363.15 380.09,366.53 380.70,370.00 C381.46,374.33 382.05,379.69 382.70,384.70 C383.38,389.92 384.00,395.61 384.70,400.70 C385.34,405.37 385.80,410.14 386.70,414.10 C387.44,417.34 388.16,420.67 389.40,422.80 C390.29,424.33 391.54,425.21 392.60,426.20 C393.54,427.08 394.61,427.60 395.40,428.50 C396.21,429.42 396.84,430.33 397.40,431.70 C398.23,433.71 398.65,436.93 399.20,439.70 C399.79,442.68 400.24,445.70 400.80,449.00 C401.43,452.74 402.18,456.99 402.80,461.00 C403.42,465.02 403.81,469.17 404.50,473.10 C405.16,476.87 405.95,481.99 406.80,484.10 C407.18,485.04 407.58,486.03 408.00,486.00 C408.65,485.95 409.51,483.18 410.10,481.10 C411.04,477.78 411.43,472.16 412.10,467.70 C412.77,463.26 413.43,458.84 414.10,454.40 C414.77,449.94 415.45,444.89 416.10,441.00 C416.61,437.99 416.96,435.23 417.60,433.00 C418.09,431.32 418.47,429.78 419.30,428.70 C420.01,427.78 421.00,426.93 422.00,426.70 C423.00,426.47 424.36,427.70 425.30,427.30 C426.43,426.82 427.28,425.00 428.00,423.30 C429.02,420.92 429.35,417.21 430.00,414.00 C430.69,410.56 431.37,407.07 432.00,403.30 C432.71,399.11 433.36,394.64 434.00,390.00 C434.70,384.92 435.30,379.08 436.00,374.00 C436.64,369.36 436.95,363.85 438.00,360.70 C438.63,358.80 439.49,356.44 440.30,356.40 C441.06,356.36 442.05,358.38 442.70,360.00 C443.76,362.64 444.08,367.58 444.70,371.30 C445.31,374.91 445.90,378.77 446.40,382.00 C446.81,384.66 447.08,386.76 447.50,389.30 C447.96,392.08 448.36,395.49 449.10,398.00 C449.70,400.02 450.32,402.04 451.30,403.30 C452.05,404.26 453.06,405.27 454.00,405.30 C454.99,405.33 456.19,403.11 457.10,403.30 C458.13,403.52 459.01,405.56 459.70,407.30 C460.74,409.93 461.01,414.33 461.60,418.00 C462.22,421.88 462.70,426.09 463.30,430.00 C463.87,433.75 464.58,437.35 465.10,441.00 C465.61,444.59 465.93,448.03 466.40,451.70 C466.90,455.59 467.45,459.83 468.00,463.70 C468.52,467.35 468.97,471.18 469.60,474.30 C470.11,476.80 470.55,479.31 471.30,481.00 C471.81,482.16 472.50,483.67 473.10,483.70 C473.63,483.72 474.17,482.37 474.70,481.70" fill="none" stroke="#474747" stroke-width="1.6" stroke-linejoin="round"/>
<rect x="130.62" y="516.84" width="6.1" height="6.1" fill="none" stroke="#4d4d4d" stroke-width="1.5"/>
<rect x="198.78" y="502.58" width="6.1" height="6.1" fill="none" stroke="#4d4d4d" stroke-width="1.5"/>
<rect x="266.95" y="466.37" width="6.1" height="6.1" fill="none" stroke="#4d4d4d" stroke-width="1.5"/>
<rect x="335.12" y="461.25" width="6.1" height="6.1" fill="none" stroke="#4d4d4d" stroke-width="1.5"/>
<rect x="403.28" y="481.15" width="6.1" height="6.1" fill="none" stroke="#4d4d4d" stroke-width="1.5"/>
<rect x="471.45" y="478.65" width="6.1" height="6.1" fill="none" stroke="#4d4d4d" stroke-width="1.5"/>
<line x1="65.50" y1="440.79" x2="474.50" y2="440.79" stroke="#111" stroke-width="1.8"/>
<rect x="65.50" y="336.00" width="409.00" height="244.50" fill="none" stroke="#262626" stroke-width="1"/>
<text x="65.50" y="602.10" text-anchor="middle">0</text>
<text x="133.67" y="602.10" text-anchor="middle">0.5</text>
<text x="201.83" y="602.10" text-anchor="middle">1</text>
<text x="270.00" y="602.10" text-anchor="middle">1.5</text>
<text x="338.17" y="602.10" text-anchor="middle">2</text>
<text x="406.33" y="602.10" text-anchor="middle">2.5</text>
<text x="474.50" y="602.10" text-anchor="middle">3</text>
<text x="61.00" y="587.20" text-anchor="end">-4</text>
<text x="61.00" y="552.27" text-anchor="end">-3</text>
<text x="61.00" y="517.34" text-anchor="end">-2</text>
<text x="61.00" y="482.41" text-anchor="end">-1</text>
<text x="61.00" y="447.49" text-anchor="end">0</text>
<text x="61.00" y="412.56" text-anchor="end">1</text>
<text x="61.00" y="377.63" text-anchor="end">2</text>
<text x="61.00" y="342.70" text-anchor="end">3</text>
<text x="270.00" y="624.70" text-anchor="middle" font-size="20.6">Время, с</text>
<line x1="128.10" y1="547.80" x2="190.10" y2="547.80" stroke="#111" stroke-width="1.8"/>
<circle cx="159.10" cy="547.80" r="3.9" fill="none" stroke="#111" stroke-width="1.8"/>
<line x1="228.70" y1="547.80" x2="290.60" y2="547.80" stroke="#474747" stroke-width="1.7"/>
<rect x="256.60" y="544.75" width="6.1" height="6.1" fill="none" stroke="#4d4d4d" stroke-width="1.5"/>
<line x1="328.60" y1="547.40" x2="390.20" y2="547.40" stroke="#111" stroke-width="1.8"/>
<text transform="translate(194.85,551.90) scale(1.050,1)" font-size="18" font-style="italic">δ</text>
<text x="202.20" y="559.70" font-size="14">вн</text>
<text transform="translate(295.35,551.90) scale(1.050,1)" font-size="18" font-style="italic">δ</text>
<text x="303.00" y="559.70" font-size="14">вq</text>
<text transform="translate(394.85,551.90) scale(1.050,1)" font-size="18" font-style="italic">δ</text>
<text x="402.50" y="559.70" font-size="14">вн</text>
<text x="420.50" y="551.90" font-size="16">-</text>
<text transform="translate(430.95,551.90) scale(1.050,1)" font-size="18" font-style="italic">δ</text>
<text x="437.60" y="559.70" font-size="14">вq</text>
<line x1="612.50" y1="336.00" x2="612.50" y2="580.50" stroke="#dcdcdc" stroke-width="1"/>
<line x1="681.50" y1="336.00" x2="681.50" y2="580.50" stroke="#dcdcdc" stroke-width="1"/>
<line x1="749.50" y1="336.00" x2="749.50" y2="580.50" stroke="#dcdcdc" stroke-width="1"/>
<line x1="817.50" y1="336.00" x2="817.50" y2="580.50" stroke="#dcdcdc" stroke-width="1"/>
<line x1="886.50" y1="336.00" x2="886.50" y2="580.50" stroke="#dcdcdc" stroke-width="1"/>
<line x1="544.50" y1="519.50" x2="954.50" y2="519.50" stroke="#dcdcdc" stroke-width="1"/>
<line x1="544.50" y1="458.50" x2="954.50" y2="458.50" stroke="#dcdcdc" stroke-width="1"/>
<line x1="544.50" y1="397.50" x2="954.50" y2="397.50" stroke="#dcdcdc" stroke-width="1"/>
<line x1="544.50" y1="580.50" x2="544.50" y2="576.50" stroke="#262626" stroke-width="1"/>
<line x1="544.50" y1="336.00" x2="544.50" y2="340.00" stroke="#262626" stroke-width="1"/>
<line x1="612.50" y1="580.50" x2="612.50" y2="576.50" stroke="#262626" stroke-width="1"/>
<line x1="612.50" y1="336.00" x2="612.50" y2="340.00" stroke="#262626" stroke-width="1"/>
<line x1="681.50" y1="580.50" x2="681.50" y2="576.50" stroke="#262626" stroke-width="1"/>
<line x1="681.50" y1="336.00" x2="681.50" y2="340.00" stroke="#262626" stroke-width="1"/>
<line x1="749.50" y1="580.50" x2="749.50" y2="576.50" stroke="#262626" stroke-width="1"/>
<line x1="749.50" y1="336.00" x2="749.50" y2="340.00" stroke="#262626" stroke-width="1"/>
<line x1="817.50" y1="580.50" x2="817.50" y2="576.50" stroke="#262626" stroke-width="1"/>
<line x1="817.50" y1="336.00" x2="817.50" y2="340.00" stroke="#262626" stroke-width="1"/>
<line x1="886.50" y1="580.50" x2="886.50" y2="576.50" stroke="#262626" stroke-width="1"/>
<line x1="886.50" y1="336.00" x2="886.50" y2="340.00" stroke="#262626" stroke-width="1"/>
<line x1="954.50" y1="580.50" x2="954.50" y2="576.50" stroke="#262626" stroke-width="1"/>
<line x1="954.50" y1="336.00" x2="954.50" y2="340.00" stroke="#262626" stroke-width="1"/>
<line x1="544.50" y1="580.50" x2="548.50" y2="580.50" stroke="#262626" stroke-width="1"/>
<line x1="954.50" y1="580.50" x2="950.50" y2="580.50" stroke="#262626" stroke-width="1"/>
<line x1="544.50" y1="519.50" x2="548.50" y2="519.50" stroke="#262626" stroke-width="1"/>
<line x1="954.50" y1="519.50" x2="950.50" y2="519.50" stroke="#262626" stroke-width="1"/>
<line x1="544.50" y1="458.50" x2="548.50" y2="458.50" stroke="#262626" stroke-width="1"/>
<line x1="954.50" y1="458.50" x2="950.50" y2="458.50" stroke="#262626" stroke-width="1"/>
<line x1="544.50" y1="397.50" x2="548.50" y2="397.50" stroke="#262626" stroke-width="1"/>
<line x1="954.50" y1="397.50" x2="950.50" y2="397.50" stroke="#262626" stroke-width="1"/>
<line x1="544.50" y1="336.50" x2="548.50" y2="336.50" stroke="#262626" stroke-width="1"/>
<line x1="954.50" y1="336.50" x2="950.50" y2="336.50" stroke="#262626" stroke-width="1"/>
<clipPath id="c4"><rect x="544.50" y="336.00" width="410.00" height="244.50"/></clipPath>
<circle cx="544.50" cy="521.40" r="3.9" fill="none" stroke="#111" stroke-width="1.8"/>
<circle cx="599.17" cy="401.72" r="3.9" fill="none" stroke="#111" stroke-width="1.8"/>
<circle cx="653.83" cy="463.36" r="3.9" fill="none" stroke="#111" stroke-width="1.8"/>
<circle cx="708.50" cy="497.20" r="3.9" fill="none" stroke="#111" stroke-width="1.8"/>
<circle cx="763.17" cy="418.80" r="3.9" fill="none" stroke="#111" stroke-width="1.8"/>
<circle cx="817.83" cy="410.50" r="3.9" fill="none" stroke="#111" stroke-width="1.8"/>
<circle cx="872.50" cy="408.93" r="3.9" fill="none" stroke="#111" stroke-width="1.8"/>
<circle cx="927.17" cy="391.63" r="3.9" fill="none" stroke="#111" stroke-width="1.8"/>
<path clip-path="url(#c4)" d="M545.10,521.40 C545.60,523.77 545.84,526.17 546.60,528.50 C547.39,530.91 548.56,533.45 549.80,535.60 C550.95,537.59 552.24,539.72 553.70,541.00 C554.89,542.04 556.27,542.99 557.60,543.10 C558.88,543.21 560.34,542.75 561.50,541.80 C563.12,540.47 564.36,537.37 565.50,534.80 C566.77,531.95 567.61,528.78 568.60,525.40 C569.73,521.53 570.75,517.00 571.80,512.80 C572.85,508.60 573.86,504.39 574.90,500.20 C575.93,496.02 576.98,492.01 578.00,487.70 C579.08,483.12 580.15,478.23 581.20,473.50 C582.25,468.79 583.51,462.76 584.30,459.40 C584.74,457.51 584.99,456.76 585.40,455.00 C586.01,452.36 586.74,448.65 587.50,445.10 C588.38,440.97 589.39,436.03 590.40,431.70 C591.36,427.61 592.37,423.63 593.40,419.80 C594.37,416.18 595.37,412.48 596.40,409.30 C597.28,406.60 598.15,404.49 599.10,401.90 C600.14,399.05 600.98,395.51 602.40,392.90 C603.65,390.59 605.06,388.27 606.90,386.90 C608.58,385.64 611.01,384.49 612.80,384.70 C614.46,384.89 615.92,386.33 617.30,387.70 C618.98,389.38 620.41,391.84 621.80,394.40 C623.45,397.44 624.85,401.27 626.30,404.90 C627.83,408.72 629.22,412.84 630.70,416.80 C632.18,420.77 633.70,424.72 635.20,428.70 C636.70,432.69 638.15,436.86 639.70,440.70 C641.16,444.31 642.71,447.96 644.20,451.10 C645.47,453.77 646.34,456.32 648.00,458.40 C649.62,460.44 651.92,462.53 654.00,463.50 C655.72,464.30 657.47,464.41 659.30,464.40 C661.26,464.39 663.36,463.58 665.40,463.30 C667.43,463.02 669.57,462.55 671.50,462.70 C673.29,462.84 675.08,463.13 676.60,464.00 C678.24,464.93 679.42,466.82 680.90,468.30 C682.48,469.88 684.33,471.35 685.80,473.20 C687.35,475.16 688.42,477.58 689.90,479.80 C691.47,482.15 693.28,484.58 695.00,486.90 C696.68,489.18 698.22,491.93 700.10,493.60 C701.67,495.00 703.64,496.02 705.20,496.60 C706.38,497.04 707.45,497.55 708.50,497.20 C709.85,496.75 711.12,494.80 712.30,493.10 C713.81,490.92 715.06,487.73 716.40,484.90 C717.80,481.94 719.26,478.69 720.50,475.70 C721.65,472.93 722.61,470.40 723.60,467.60 C724.65,464.64 725.63,461.48 726.60,458.40 C727.57,455.31 728.50,452.28 729.40,449.10 C730.34,445.79 731.11,442.20 732.10,438.90 C733.05,435.74 734.14,432.67 735.20,429.70 C736.21,426.88 737.21,424.01 738.30,421.50 C739.26,419.29 740.20,417.19 741.30,415.40 C742.26,413.85 743.11,412.48 744.40,411.30 C745.80,410.02 747.74,408.39 749.50,408.10 C751.14,407.83 753.06,408.59 754.60,409.30 C756.12,410.00 757.42,410.99 758.70,412.30 C760.26,413.90 761.76,416.50 763.00,418.50 C764.09,420.25 764.86,421.82 765.80,423.60 C766.82,425.53 767.73,427.70 768.90,429.70 C770.12,431.77 771.41,434.07 773.00,435.80 C774.50,437.43 776.24,439.06 778.10,439.90 C779.83,440.69 781.95,441.10 783.70,440.90 C785.34,440.71 786.82,439.91 788.30,438.90 C790.08,437.69 791.78,435.72 793.40,433.80 C795.19,431.67 796.80,428.99 798.50,426.60 C800.20,424.22 801.86,421.75 803.60,419.50 C805.26,417.36 806.97,414.91 808.70,413.40 C810.05,412.22 811.29,411.29 812.80,410.80 C814.35,410.30 816.24,409.97 817.90,410.50 C819.92,411.14 822.06,413.47 823.80,415.20 C825.48,416.88 826.77,418.75 828.20,420.70 C829.71,422.77 831.13,425.11 832.60,427.30 C834.06,429.48 835.37,431.72 837.00,433.80 C838.66,435.93 840.44,438.51 842.50,439.90 C844.32,441.13 846.60,442.16 848.50,442.10 C850.25,442.04 851.94,441.13 853.50,439.90 C855.51,438.32 857.22,435.26 859.00,432.70 C860.90,429.98 862.81,426.83 864.50,424.00 C866.06,421.38 867.46,418.84 868.80,416.30 C870.08,413.87 871.12,411.47 872.40,409.10 C873.69,406.71 875.07,404.30 876.50,402.00 C877.91,399.74 879.12,397.05 880.90,395.40 C882.49,393.93 884.50,392.84 886.40,392.30 C888.17,391.80 890.05,391.64 891.90,392.10 C894.08,392.64 896.32,394.55 898.50,395.90 C900.72,397.28 903.19,399.00 905.10,400.30 C906.57,401.30 907.50,402.26 909.00,403.00 C910.73,403.85 913.10,405.08 915.00,404.90 C916.86,404.72 918.84,403.29 920.30,402.00 C921.73,400.74 922.60,398.93 923.70,397.30 C924.84,395.61 925.96,393.95 927.00,392.00 C928.18,389.80 929.21,387.20 930.30,384.70 C931.44,382.10 932.58,379.37 933.70,376.70 C934.82,374.04 935.90,371.37 937.00,368.70 C938.10,366.03 939.22,363.49 940.30,360.70 C941.46,357.71 942.67,354.32 943.70,351.30 C944.65,348.53 945.45,345.90 946.30,343.30 C947.11,340.81 948.08,337.96 948.70,336.00 C949.11,334.69 949.35,333.90 949.70,332.70 C950.11,331.27 950.57,329.57 951.00,328.00" fill="none" stroke="#474747" stroke-width="1.6" stroke-linejoin="round"/>
<rect x="609.78" y="381.67" width="6.1" height="6.1" fill="none" stroke="#4d4d4d" stroke-width="1.5"/>
<rect x="678.12" y="465.52" width="6.1" height="6.1" fill="none" stroke="#4d4d4d" stroke-width="1.5"/>
<rect x="746.45" y="405.05" width="6.1" height="6.1" fill="none" stroke="#4d4d4d" stroke-width="1.5"/>
<rect x="814.78" y="407.45" width="6.1" height="6.1" fill="none" stroke="#4d4d4d" stroke-width="1.5"/>
<rect x="883.12" y="389.38" width="6.1" height="6.1" fill="none" stroke="#4d4d4d" stroke-width="1.5"/>
<line x1="544.50" y1="458.25" x2="954.50" y2="458.25" stroke="#111" stroke-width="1.8"/>
<rect x="544.50" y="336.00" width="410.00" height="244.50" fill="none" stroke="#262626" stroke-width="1"/>
<text x="544.50" y="602.10" text-anchor="middle">0</text>
<text x="612.83" y="602.10" text-anchor="middle">0.5</text>
<text x="681.17" y="602.10" text-anchor="middle">1</text>
<text x="749.50" y="602.10" text-anchor="middle">1.5</text>
<text x="817.83" y="602.10" text-anchor="middle">2</text>
<text x="886.17" y="602.10" text-anchor="middle">2.5</text>
<text x="954.50" y="602.10" text-anchor="middle">3</text>
<text x="540.00" y="587.20" text-anchor="end">-10</text>
<text x="540.00" y="526.08" text-anchor="end">-5</text>
<text x="540.00" y="464.95" text-anchor="end">0</text>
<text x="540.00" y="403.82" text-anchor="end">5</text>
<text x="540.00" y="342.70" text-anchor="end">10</text>
<text x="749.50" y="624.70" text-anchor="middle" font-size="20.6">Время, с</text>
<line x1="606.30" y1="547.80" x2="667.40" y2="547.80" stroke="#111" stroke-width="1.8"/>
<circle cx="636.85" cy="547.80" r="3.9" fill="none" stroke="#111" stroke-width="1.8"/>
<line x1="707.40" y1="547.80" x2="768.90" y2="547.80" stroke="#474747" stroke-width="1.7"/>
<rect x="735.10" y="544.75" width="6.1" height="6.1" fill="none" stroke="#4d4d4d" stroke-width="1.5"/>
<line x1="808.20" y1="547.40" x2="869.30" y2="547.40" stroke="#111" stroke-width="1.8"/>
<text transform="translate(671.80,551.40) scale(1.000,1)" font-size="17" font-style="italic">n</text>
<text x="679.10" y="559.50" font-size="14"><tspan font-style="italic">y</tspan>н</text>
<text transform="translate(772.50,551.40) scale(1.000,1)" font-size="17" font-style="italic">n</text>
<text x="781.00" y="559.50" font-size="14"><tspan font-style="italic">y</tspan>q</text>
<text transform="translate(874.00,551.40) scale(1.000,1)" font-size="17" font-style="italic">n</text>
<text x="882.50" y="559.50" font-size="14"><tspan font-style="italic">y</tspan>н</text>
<text x="900.50" y="551.40" font-size="16">-</text>
<text transform="translate(910.00,551.40) scale(1.000,1)" font-size="17" font-style="italic">n</text>
<text x="917.60" y="559.50" font-size="14"><tspan font-style="italic">y</tspan>q</text>
</svg>
</body></html>
